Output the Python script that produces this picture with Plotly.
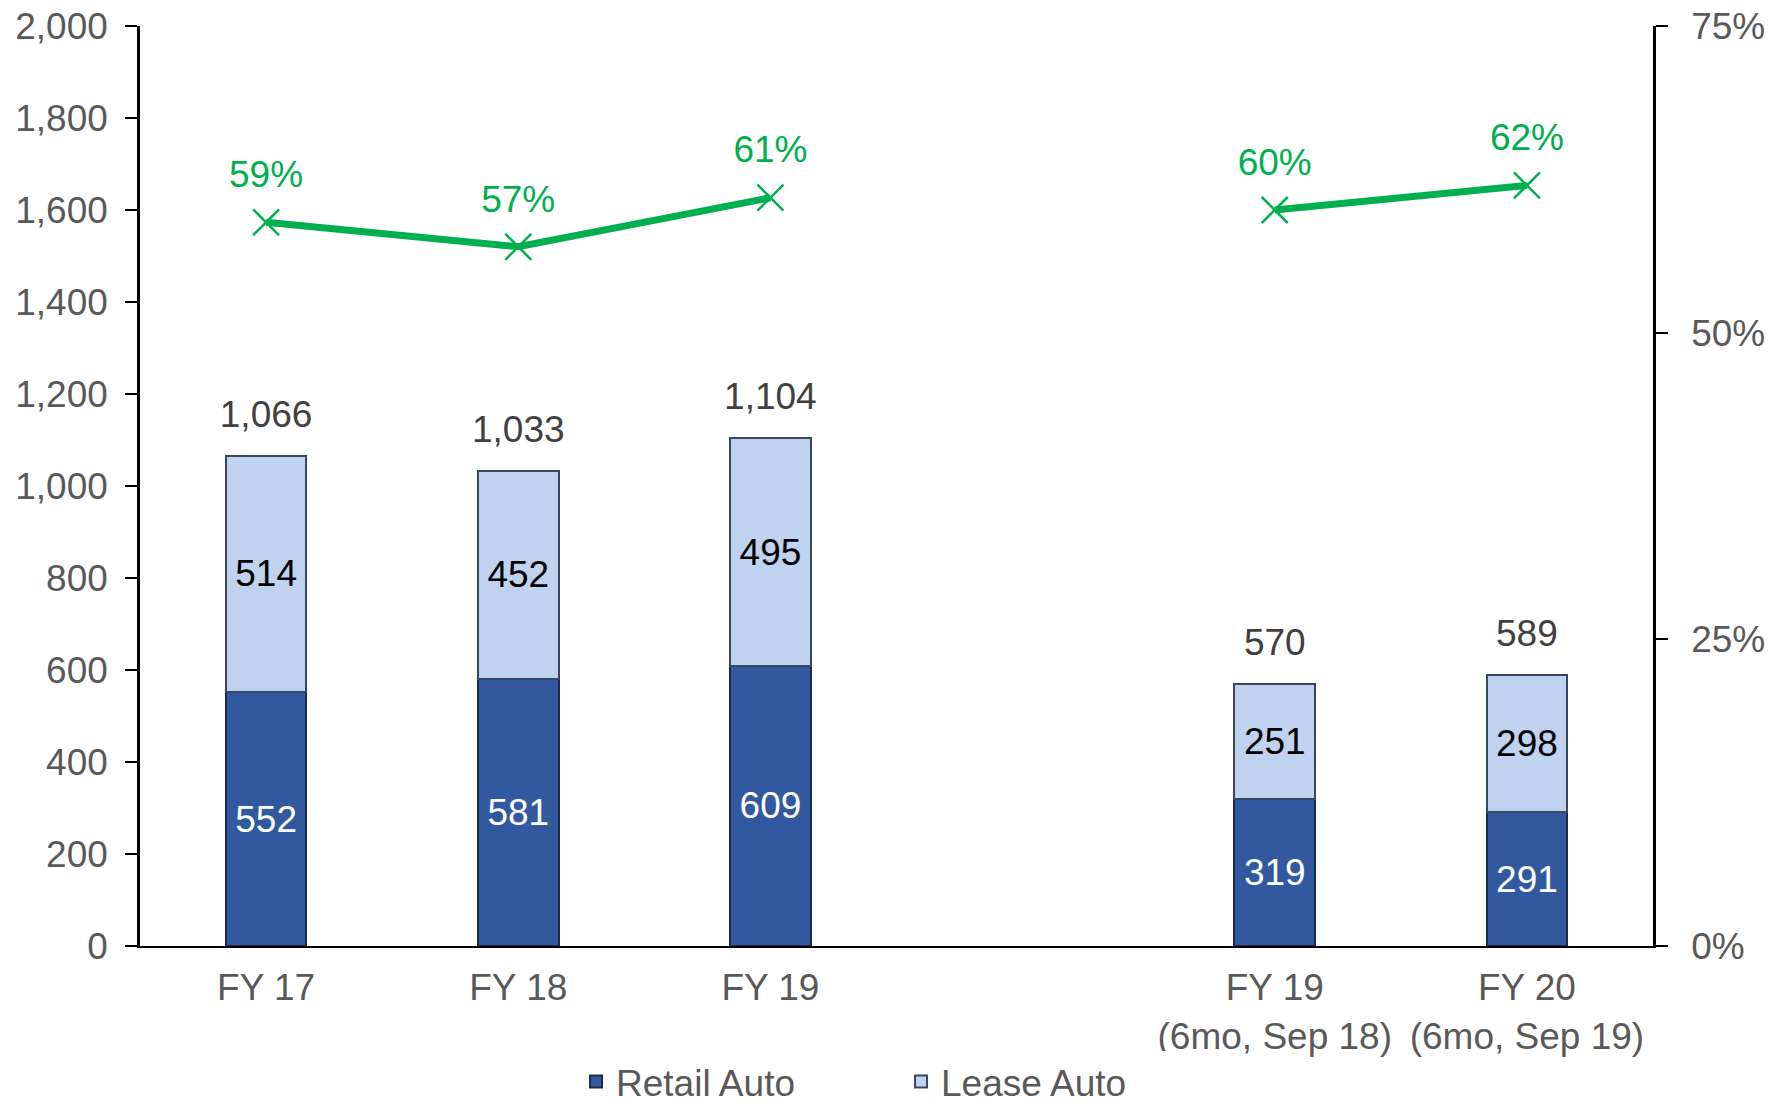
import plotly.graph_objects as go

FONT = "Liberation Sans, Arial, sans-serif"
GREEN = "#00B050"
TICK_GRAY = "#595959"
FS = 37

categories = ["FY 17", "FY 18", "FY 19", "FY 19<br>(6mo, Sep 18)", "FY 20<br>(6mo, Sep 19)"]
positions = [0, 1, 2, 4, 5]  # slot 3 left empty as a spacer
retail = [552, 581, 609, 319, 291]
lease = [514, 452, 495, 251, 298]
share_pct = [59, 57, 61, 60, 62]

totals = [r + l for r, l in zip(retail, lease)]

# break the line across the empty slot
line_x, line_y = [], []
for i, (p, v) in enumerate(zip(positions, share_pct)):
    if i > 0 and p - positions[i - 1] > 1:
        line_x.append(None)
        line_y.append(None)
    line_x.append(p)
    line_y.append(v)

fig = go.Figure()
fig.add_trace(go.Bar(
    x=positions, y=retail, name="Retail Auto", width=0.32,
    marker=dict(color="#3259A0", line=dict(color="#1B2B4D", width=2)),
    text=[str(v) for v in retail], textposition="inside", insidetextanchor="middle",
    textfont=dict(color="white", size=FS, family=FONT),
))
fig.add_trace(go.Bar(
    x=positions, y=lease, name="Lease Auto", width=0.32,
    marker=dict(color="#BFD2EF", line=dict(color="#3A4660", width=2)),
    text=[str(v) for v in lease], textposition="inside", insidetextanchor="middle",
    textfont=dict(color="black", size=FS, family=FONT),
))
# totals above bars (transparent marker pushes the text up)
fig.add_trace(go.Scatter(
    x=positions, y=totals, mode="markers+text", showlegend=False, hoverinfo="skip",
    marker=dict(size=30, color="rgba(0,0,0,0)"),
    text=[f"{v:,}" for v in totals], textposition="top center",
    textfont=dict(color="#404040", size=FS, family=FONT),
))
fig.add_trace(go.Scatter(
    x=line_x, y=line_y, yaxis="y2", mode="lines+markers", showlegend=False,
    connectgaps=False,
    line=dict(color=GREEN, width=7),
    marker=dict(symbol="x-thin-open", size=26, line=dict(color=GREEN, width=2.5)),
))
fig.add_trace(go.Scatter(
    x=positions, y=share_pct, yaxis="y2", mode="markers+text", showlegend=False,
    hoverinfo="skip", marker=dict(size=40, color="rgba(0,0,0,0)"),
    text=[f"{v}%" for v in share_pct], textposition="top center",
    textfont=dict(color=GREEN, size=FS, family=FONT),
))

fig.update_layout(
    width=1777, height=1109, barmode="stack",
    plot_bgcolor="white", paper_bgcolor="white",
    margin=dict(l=140, r=124, t=26, b=163, autoexpand=False),
    font=dict(family=FONT, size=FS, color=TICK_GRAY),
    xaxis=dict(
        range=[-0.5, 5.5], tickvals=positions, ticktext=categories, automargin=False,
        showline=True, linecolor="black", linewidth=2, ticks="",
        showgrid=False, zeroline=False, tickfont=dict(size=FS, color=TICK_GRAY),
        ticklabelstandoff=8,
    ),
    yaxis=dict(
        range=[0, 2000], dtick=200, tickformat=",", showgrid=False, zeroline=False,
        automargin=False,
        showline=True, linecolor="black", linewidth=2.5, ticks="outside",
        ticklen=12, tickwidth=2, tickcolor="black", ticklabelstandoff=10,
        tickfont=dict(size=FS, color=TICK_GRAY),
    ),
    yaxis2=dict(
        range=[0, 75], tickvals=[0, 25, 50, 75], ticktext=["0%", "25%", "50%", "75%"],
        overlaying="y", side="right", showgrid=False, zeroline=False, automargin=False,
        showline=True, linecolor="black", linewidth=2.5, ticks="outside",
        ticklen=12, tickwidth=2, tickcolor="black", ticklabelstandoff=16,
        tickfont=dict(size=FS, color=TICK_GRAY),
    ),
    legend=dict(
        orientation="h", x=0.503, xanchor="center", y=-0.114, yanchor="top",
        font=dict(size=FS, color=TICK_GRAY), itemwidth=30, traceorder="normal",
        entrywidth=280,
    ),
    showlegend=True,
)

# drop the page's default 8px body margin so the figure sits at the corner
fig.write_html("out.html", config={"displayModeBar": False},
               post_script="document.body.style.margin = '0';")
